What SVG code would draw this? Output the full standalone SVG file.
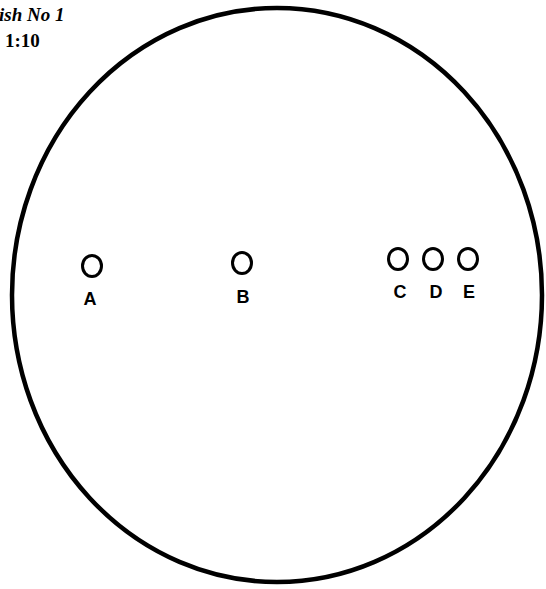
<svg xmlns="http://www.w3.org/2000/svg" width="546" height="589" viewBox="0 0 546 589">
<style>
.outline{fill:none;stroke:#000;stroke-width:4.5}
.hole{fill:none;stroke:#000;stroke-width:3}
.lbl{font-family:"Liberation Sans",sans-serif;font-size:18px;font-weight:bold;fill:#000;text-anchor:middle}
.title{font-family:"Liberation Serif",serif;font-size:19px;font-weight:bold;fill:#000}
</style>
<rect width="546" height="589" fill="#fff"/>
<g id="title">
<text class="title" x="-1" y="21" font-style="italic">ish No 1</text>
<text class="title" x="5" y="47">1:10</text>
</g>
<g id="plate"><ellipse class="outline" cx="277" cy="295" rx="265" ry="287"/></g>
<g id="A"><ellipse class="hole" cx="92" cy="266" rx="9.5" ry="10.5"/><text class="lbl" x="90" y="305">A</text></g>
<g id="B"><ellipse class="hole" cx="242" cy="263" rx="9.5" ry="10.5"/><text class="lbl" x="243" y="303">B</text></g>
<g id="C"><ellipse class="hole" cx="398" cy="259" rx="9.5" ry="10.5"/><text class="lbl" x="400" y="298">C</text></g>
<g id="D"><ellipse class="hole" cx="433" cy="259" rx="9.5" ry="10.5"/><text class="lbl" x="436" y="298">D</text></g>
<g id="E"><ellipse class="hole" cx="468" cy="259" rx="9.5" ry="10.5"/><text class="lbl" x="469" y="298">E</text></g>
<g id="connectors"/>
</svg>
